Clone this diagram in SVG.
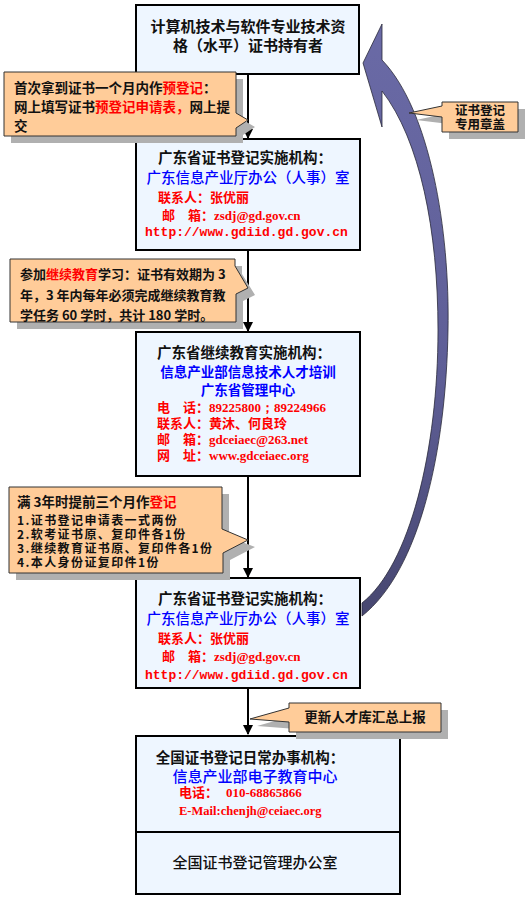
<svg xmlns="http://www.w3.org/2000/svg" width="531" height="898" viewBox="0 0 531 898">
<style>
text{font-family:"Noto Sans CJK SC","Noto Sans",sans-serif;}
.box{fill:#eef6ff;stroke:#000;stroke-width:2;}
.call{fill:#ffcc99;stroke:#333;stroke-width:1;}
.shadow{fill:#b0b0b0;}
.conn{stroke:#000;stroke-width:2;fill:none;marker-end:url(#ah);}
.h{font-size:14.5px;font-weight:600;fill:#111;}
.b{font-size:14.5px;fill:#0000ff;font-weight:500;}
.r{font-size:13px;fill:#ff0000;font-weight:700;}
.c{font-size:13px;font-weight:700;fill:#111;}
.red{fill:#ff0000;}
.mono{font-family:"Liberation Mono",monospace;font-weight:700;}
.ser{font-family:"Liberation Serif",serif;font-weight:700;}
.lst{font-size:12px;letter-spacing:1.4px;}
</style>
<defs>
<marker id="ah" viewBox="0 0 10 10" refX="9" refY="5" markerWidth="5" markerHeight="5" orient="auto" markerUnits="strokeWidth">
<path d="M0,0 L10,5 L0,10 Z" fill="#000"/>
</marker>
<linearGradient id="ag" x1="0" y1="0" x2="0" y2="1">
<stop offset="0" stop-color="#6a6aa6"/>
<stop offset="0.6" stop-color="#5e5e96"/>
<stop offset="1" stop-color="#474770"/>
</linearGradient>
</defs>

<g id="connectors">
<line class="conn" x1="248" y1="74" x2="248" y2="138"/>
<line class="conn" x1="248" y1="250" x2="248" y2="331"/>
<line class="conn" x1="248" y1="476" x2="248" y2="577"/>
<line class="conn" x1="248" y1="688" x2="248" y2="734"/>
<path id="curved-arrow" d="M363,63 L382,24 L382,60 C430,110 450,230 448,330 C446,450 420,570 362,616 L362,603 C410,565 438,450 438,330 C438,230 420,140 382,91 L382,127 Z" fill="url(#ag)" stroke="#2a2a3a" stroke-width="0.8"/>
</g>

<g id="node-holder">
<rect class="box" x="136" y="5" width="223" height="69"/>
<text class="h" text-anchor="middle" style="font-size:15px"><tspan x="248" y="32">计算机技术与软件专业技术资</tspan><tspan x="248" y="51">格（水平）证书持有者</tspan></text>
</g>

<g id="node-gd1">
<rect class="box" x="136" y="139" width="224" height="111"/>
<text class="h" x="245" y="163" text-anchor="middle">广东省证书登记实施机构：</text>
<text class="b" x="248" y="183" text-anchor="middle">广东信息产业厅办公（人事）室</text>
<text class="r" x="158" y="202">联系人：张优丽</text>
<text class="r" x="162" y="220">邮　箱：<tspan class="ser">zsdj@gd.gov.cn</tspan></text>
<text class="r mono" x="145" y="236">http://www.gdiid.gd.gov.cn</text>
</g>

<g id="node-gdce">
<rect class="box" x="136" y="332" width="224" height="144"/>
<text class="h" x="244" y="358" text-anchor="middle">广东省继续教育实施机构：</text>
<text class="b" text-anchor="middle" style="font-size:13.5px;font-weight:600"><tspan x="248" y="377">信息产业部信息技术人才培训</tspan><tspan x="248" y="395">广东省管理中心</tspan></text>
<text class="r"><tspan x="157" y="412">电　话：<tspan class="ser">89225800；89224966</tspan></tspan><tspan x="157" y="428">联系人：黄沐、何良玲</tspan><tspan x="157" y="444">邮　箱：<tspan class="ser">gdceiaec@263.net</tspan></tspan><tspan x="157" y="460">网　址：<tspan class="ser">www.gdceiaec.org</tspan></tspan></text>
</g>

<g id="node-gd2">
<rect class="box" x="136" y="578" width="224" height="110"/>
<text class="h" x="245" y="604" text-anchor="middle">广东省证书登记实施机构：</text>
<text class="b" x="248" y="624" text-anchor="middle">广东信息产业厅办公（人事）室</text>
<text class="r" x="158" y="643">联系人：张优丽</text>
<text class="r" x="162" y="661">邮　箱：<tspan class="ser">zsdj@gd.gov.cn</tspan></text>
<text class="r mono" x="145" y="679">http://www.gdiid.gd.gov.cn</text>
</g>

<g id="node-national">
<rect class="box" x="136" y="736" width="264" height="158"/>
<line x1="136" y1="832" x2="400" y2="832" stroke="#000" stroke-width="2"/>
<text class="h" x="250" y="763" text-anchor="middle">全国证书登记日常办事机构：</text>
<text class="b" x="255" y="782" text-anchor="middle" style="font-size:15px">信息产业部电子教育中心</text>
<text class="r"><tspan x="179" y="797">电话：<tspan class="ser" dx="8">010-68865866</tspan></tspan><tspan class="ser" x="179" y="815" style="font-size:12.5px">E-Mail:chenjh@ceiaec.org</tspan></text>
<text class="h" x="255" y="868" text-anchor="middle" style="font-size:15px;font-weight:500">全国证书登记管理办公室</text>
</g>

<g id="callout-1">
<path class="shadow" d="M11,79 H243 V120 L255,127 L243,135 V143 H11 Z"/>
<path class="call" d="M4,72 H236 V113 L248,120 L236,128 V136 H4 Z"/>
<text class="c" style="font-size:13.5px"><tspan x="14" y="93">首次拿到证书一个月内作<tspan class="red">预登记</tspan>：</tspan><tspan x="14" y="112">网上填写证书<tspan class="red">预登记申请表，</tspan>网上提</tspan><tspan x="14" y="131">交</tspan></text>
</g>

<g id="callout-2">
<path class="shadow" d="M17,266 H242 V274 L255,295 L243,301 V329 H17 Z"/>
<path class="call" d="M10,259 H235 V266 L248,288 L236,294 V322 H10 Z"/>
<text class="c"><tspan x="20" y="279">参加<tspan class="red">继续教育</tspan>学习：证书有效期为 3</tspan><tspan x="20" y="300">年，3 年内每年必须完成继续教育教</tspan><tspan x="20" y="320">学任务 60 学时，共计 180 学时。</tspan></text>
</g>

<g id="callout-3">
<path class="shadow" d="M16,494 H229 V537 L255,547 L230,560 V580 H16 Z"/>
<path class="call" d="M9,487 H222 V529 L248,540 L223,553 V573 H9 Z"/>
<text class="c" x="17" y="507" style="font-size:13.5px">满 3年时提前三个月作<tspan class="red">登记</tspan></text>
<text class="c lst" x="17" y="525">1.证书登记申请表一式两份</text>
<text class="c lst" x="17" y="539">2.软考证书原、复印件各1份</text>
<text class="c lst" x="17" y="553">3.继续教育证书原、复印件各1份</text>
<text class="c lst" x="17" y="567">4.本人身份证复印件1份</text>
</g>

<g id="callout-4">
<path class="shadow" d="M296,710 H448 V739 H296 V729 L257,726 L296,715 Z"/>
<path class="call" d="M289,703 H441 V732 H289 V722 L250,719 L289,708 Z"/>
<text class="c" x="365" y="722" text-anchor="middle" style="font-size:13.5px">更新人才库汇总上报</text>
</g>

<g id="callout-5">
<path class="shadow" d="M449,109 H525 V139 H449 V124 L416,120 L449,113 Z"/>
<path class="call" d="M442,102 H518 V132 H442 V117 L409,113 L442,106 Z"/>
<text class="c" text-anchor="middle" style="font-size:12.5px"><tspan x="480" y="115">证书登记</tspan><tspan x="480" y="129">专用章盖</tspan></text>
</g>
</svg>
